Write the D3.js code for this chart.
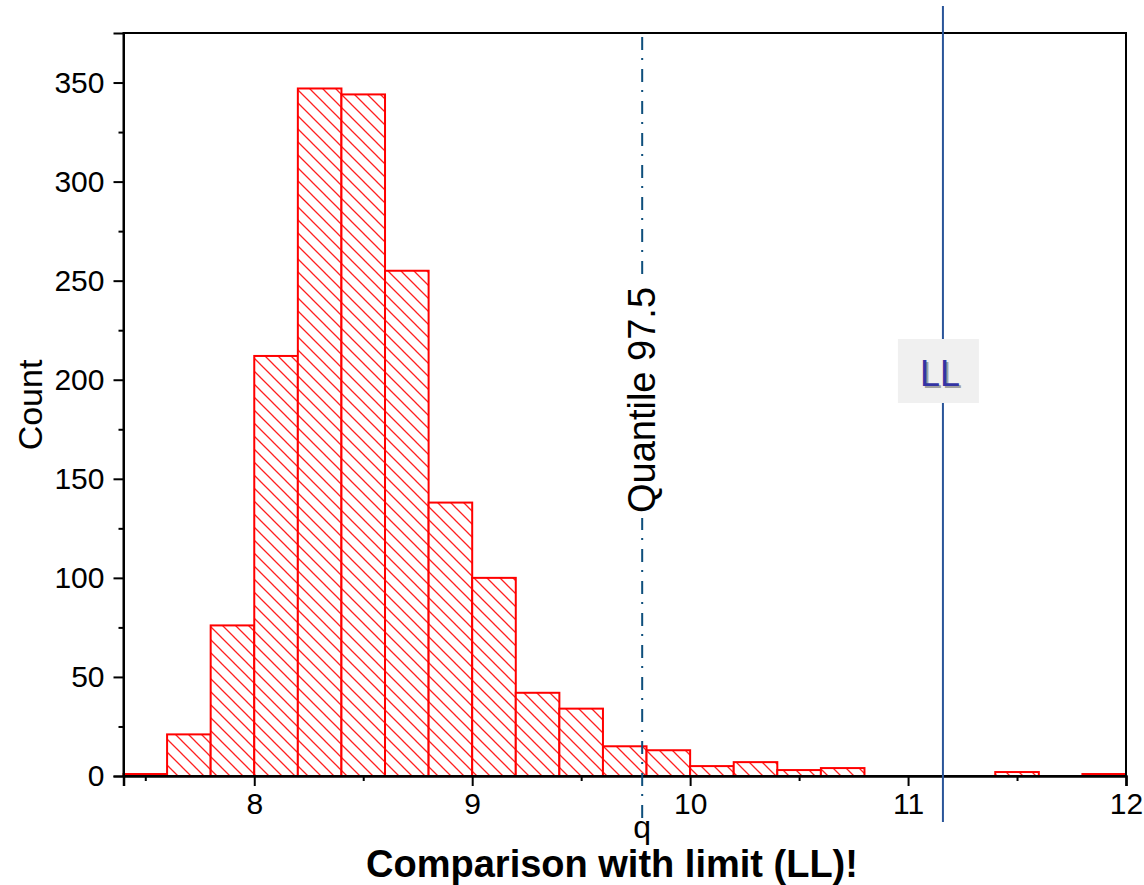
<!DOCTYPE html>
<html>
<head>
<meta charset="utf-8">
<script src="https://cdn.jsdelivr.net/npm/d3@7"></script>
<style>
  html, body { margin: 0; padding: 0; background: #ffffff; }
  svg { display: block; font-family: "Liberation Sans", Arial, sans-serif; }
</style>
</head>
<body>
<svg id="chart" width="1144" height="885"></svg>
<script>
// ---- data ----
const binStarts = [7.4, 7.6, 7.8, 8.0, 8.2, 8.4, 8.6, 8.8, 9.0, 9.2, 9.4, 9.6, 9.8, 10.0, 10.2, 10.4, 10.6, 10.8, 11.0, 11.2, 11.4, 11.6, 11.8];
const binWidth = 0.2;
const counts = [1, 21, 76, 212, 347, 344, 255, 138, 100, 42, 34, 15, 13, 5, 7, 3, 4, 0, 0, 0, 2, 0, 1];
const xMajorTicks = [8, 9, 10, 11, 12];
const xMinorTicks = [7.5, 8.5, 9.5, 10.5, 11.5];
const yMajorTicks = [0, 50, 100, 150, 200, 250, 300, 350];
const yMinorTicks = [25, 75, 125, 175, 225, 275, 325];
const quantileValue = 9.78;
const limitValue = 11.16;
const xTitle = "Comparison with limit (LL)!";
const yTitle = "Count";
const quantileLabel = "Quantile 97.5";
const quantileShort = "q";
const limitLabel = "LL";

// ---- layout ----
const svg = d3.select("#chart");
const L = 123.5, R = 1126, T = 33, B = 776;
const x = d3.scaleLinear().domain([7.4, 12]).range([L, R]);
const y = d3.scaleLinear().domain([0, 375]).range([B, T]);

// hatch pattern
const defs = svg.append("defs");
const s = 13;
const pat = defs.append("pattern")
  .attr("id", "hatch").attr("patternUnits", "userSpaceOnUse")
  .attr("width", s).attr("height", s);
pat.append("rect").attr("width", s).attr("height", s).attr("fill", "#fff");
pat.append("path")
  .attr("d", `M0,0 L${s},${s} M${-s/2},${s/2} L${s/2},${s*1.5} M${s/2},${-s/2} L${s*1.5},${s/2}`)
  .attr("stroke", "#ff2020").attr("stroke-width", 1.3);

const bins = binStarts.map((b, i) => ({x0: b, x1: b + binWidth, n: counts[i]})).filter(d => d.n > 0);

svg.append("g").selectAll("rect").data(bins).join("rect")
  .attr("x", d => x(d.x0))
  .attr("y", d => y(d.n))
  .attr("width", d => x(d.x1) - x(d.x0))
  .attr("height", d => y(0) - y(d.n))
  .attr("fill", "url(#hatch)")
  .attr("stroke", "#ff0000")
  .attr("stroke-width", 2);

// frame
svg.append("rect").attr("x", L).attr("y", T).attr("width", R - L).attr("height", B - T)
  .attr("fill", "none").attr("stroke", "#000").attr("stroke-width", 2);

// axes
const xAxis = d3.axisBottom(x).tickValues(xMajorTicks).tickSize(10).tickPadding(7).tickFormat(d3.format("d"));
const gx = svg.append("g").attr("transform", `translate(0,${B})`).call(xAxis);
gx.select(".domain").attr("stroke-width", 2.5);
gx.selectAll(".tick line").attr("stroke-width", 2);
gx.selectAll(".tick text").attr("font-size", 30).attr("font-family", "Liberation Sans, Arial, sans-serif").attr("fill", "#000");
const xMinor = d3.axisBottom(x).tickValues(xMinorTicks).tickSize(5).tickFormat("");
const gxm = svg.append("g").attr("transform", `translate(0,${B})`).call(xMinor);
gxm.select(".domain").remove();
gxm.selectAll(".tick line").attr("stroke-width", 2);

const yAxis = d3.axisLeft(y).tickValues(yMajorTicks).tickSize(10).tickPadding(9);
const gy = svg.append("g").attr("transform", `translate(${L},0)`).call(yAxis);
gy.select(".domain").attr("stroke-width", 2);
gy.selectAll(".tick line").attr("stroke-width", 2);
gy.selectAll(".tick text").attr("font-size", 30).attr("font-family", "Liberation Sans, Arial, sans-serif").attr("fill", "#000");
const yMinor = d3.axisLeft(y).tickValues(yMinorTicks).tickSize(5).tickFormat("");
const gym = svg.append("g").attr("transform", `translate(${L},0)`).call(yMinor);
gym.select(".domain").remove();
gym.selectAll(".tick line").attr("stroke-width", 2);

// quantile line
const qx = x(quantileValue);
svg.append("line").attr("x1", qx).attr("x2", qx).attr("y1", T + 4).attr("y2", 818)
  .attr("stroke", "#0e4f7c").attr("stroke-width", 2).attr("stroke-dasharray", "13,8,2,9");
const qText = svg.append("g").attr("transform", `translate(${qx + 13},400) rotate(-90)`);
qText.append("rect").attr("x", -118).attr("y", -31).attr("width", 236).attr("height", 40).attr("fill", "#fff");
qText.append("text").attr("text-anchor", "middle").attr("font-size", 38).attr("fill", "#000").text(quantileLabel);
svg.append("text").attr("x", qx).attr("y", 838).attr("text-anchor", "middle")
  .attr("font-size", 32).attr("fill", "#000").text(quantileShort);

// limit line
const lx = x(limitValue);
svg.append("line").attr("x1", lx).attr("x2", lx).attr("y1", 6).attr("y2", 822)
  .attr("stroke", "#2a5599").attr("stroke-width", 2);
svg.append("rect").attr("x", lx - 45).attr("y", 339).attr("width", 81).attr("height", 64).attr("fill", "#f0f0f0");
svg.append("text").attr("x", lx - 3 + 2).attr("y", 386 + 2).attr("text-anchor", "middle")
  .attr("font-size", 36).attr("fill", "#a0a0a0").text(limitLabel);
svg.append("text").attr("x", lx - 3).attr("y", 386).attr("text-anchor", "middle")
  .attr("font-size", 36).attr("fill", "#3434a4").text(limitLabel);

// titles
svg.append("text").attr("x", 612).attr("y", 877).attr("text-anchor", "middle")
  .attr("font-size", 38).attr("font-weight", "bold").attr("fill", "#000").text(xTitle);
svg.append("text").attr("transform", "translate(42,405) rotate(-90)").attr("text-anchor", "middle")
  .attr("font-size", 34).attr("fill", "#000").text(yTitle);
</script>
</body>
</html>
